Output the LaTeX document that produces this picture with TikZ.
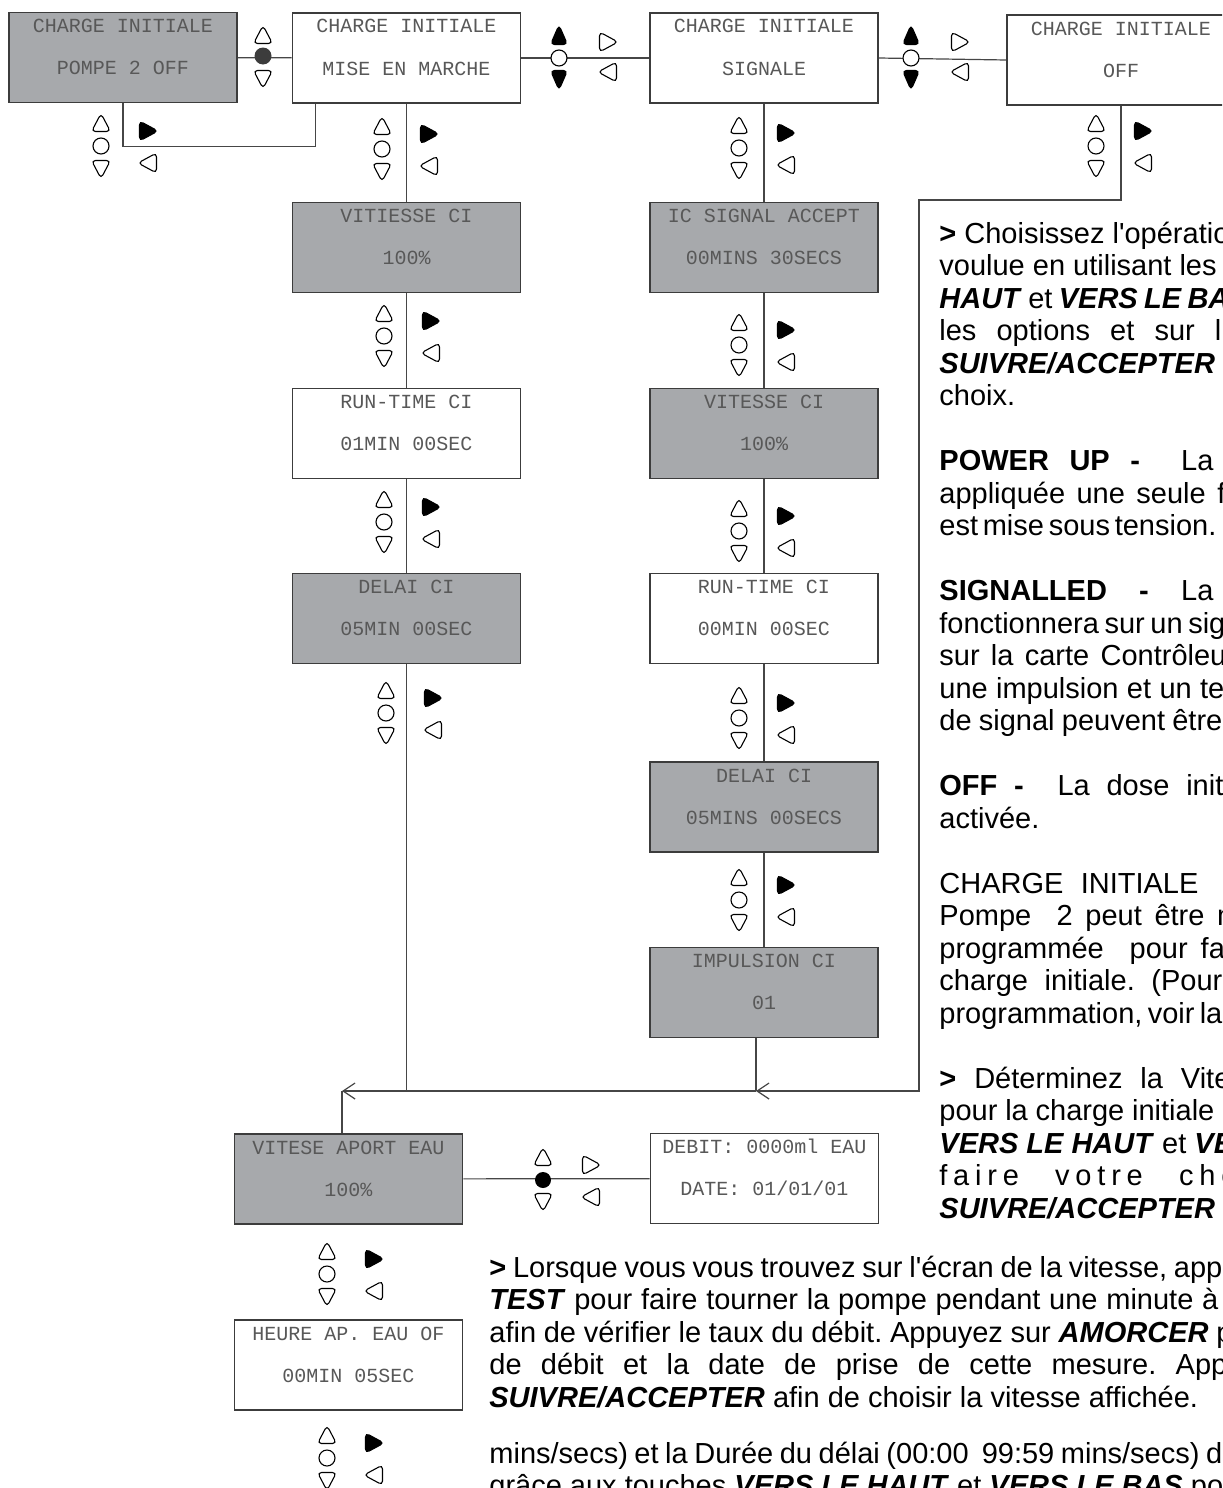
\documentclass[tikz,border=0pt]{standalone}
\usepackage{fontspec}
\usetikzlibrary{arrows.meta}
\newfontfamily\lcdfont{Liberation Mono}
\newfontfamily\txtfont{Liberation Sans}
\definecolor{lcdgray}{RGB}{167,169,172}
\definecolor{lcdline}{RGB}{60,60,60}
\definecolor{lcdtext}{RGB}{88,88,88}
\definecolor{wirecol}{RGB}{70,70,70}
\newcommand{\bfit}[1]{\textbf{\textit{#1}}}
\newcommand{\jline}[2]{\hbox to #1{\spaceskip=0pt plus 1fil\relax #2}}
\tikzset{
  lcd/.style={draw=lcdline, line width=0.8pt, minimum width=114pt, inner sep=0pt,
    text height=31pt, text depth=14pt, align=center, text=lcdtext,
    font=\lcdfont\fontsize{10pt}{21pt}\selectfont},
  lcdon/.style={lcd, fill=lcdgray},
  lcdoff/.style={lcd, fill=white},
  wire/.style={draw=wirecol, line width=0.6pt},
  barb/.style={-{Straight Barb[length=6pt,width=8pt]}},
  keyline/.style={line width=0.55pt, rounded corners=2pt, draw=black},
  txt/.style={anchor=base west, inner sep=0pt,
    font=\txtfont\fontsize{14.5pt}{16pt}\selectfont\frenchspacing},
  upkey/.pic={\draw[keyline, fill=white] (0,-9.5) -- (9.5,8.5) -- (-9.5,8.5) -- cycle;},
  downkey/.pic={\draw[keyline, fill=white] (0,9.5) -- (9.5,-8.5) -- (-9.5,-8.5) -- cycle;},
  upkeyon/.pic={\draw[keyline, fill=black] (0,-10) -- (8.5,9.5) -- (-8.5,9.5) -- cycle;},
  downkeyon/.pic={\draw[keyline, fill=black] (0,10) -- (8.5,-9.5) -- (-8.5,-9.5) -- cycle;},
  nextkey/.pic={\draw[keyline, fill=black] (10,0) -- (-8.5,10) -- (-8.5,-10) -- cycle;},
  nextkeyoff/.pic={\draw[keyline, fill=white] (10,0) -- (-8.5,10) -- (-8.5,-10) -- cycle;},
  backkey/.pic={\draw[keyline, fill=white] (-10,0) -- (8.5,10) -- (8.5,-10) -- cycle;},
  okkey/.pic={\draw[line width=0.55pt, fill=white] (0,0) circle[radius=4pt];},
  navkeys/.pic={\pic at (0,0) {upkey}; \pic at (0,23) {okkey}; \pic at (0,46) {downkey};
    \pic at (47,8) {nextkey}; \pic at (47,40) {backkey};},
  sidekeys/.pic={\pic at (0,-23) {upkeyon}; \pic at (0,0) {okkey}; \pic at (0,22) {downkeyon};
    \pic at (49,-16) {nextkeyoff}; \pic at (49,14) {backkey};}
}
\begin{document}
\begin{tikzpicture}[x=0.5pt,y=-0.5pt]
  \useasboundingbox (0,0) rectangle (1222,1488);
  \clip (0,0) rectangle (1222,1488);
  % ecrans
  \node[lcdon] (pompeoff) at (123,57.5) {CHARGE INITIALE\\POMPE 2 OFF};
  \node[lcdoff] (misemarche) at (406.5,58) {CHARGE INITIALE\\MISE EN MARCHE};
  \node[lcdoff] (signale) at (764,58) {CHARGE INITIALE\\SIGNALE};
  \node[lcdoff] (cioff) at (1121,60) {CHARGE INITIALE\\OFF};
  \node[lcdon] (vitci) at (406.5,247.5) {VITIESSE CI\\100\%};
  \node[lcdoff] (runci) at (406.5,433.5) {RUN-TIME CI\\01MIN 00SEC};
  \node[lcdon] (delci) at (406.5,618.5) {DELAI CI\\05MIN 00SEC};
  \node[lcdon] (icsig) at (764,247.5) {IC SIGNAL ACCEPT\\00MINS 30SECS};
  \node[lcdon] (vitsig) at (764,433.5) {VITESSE CI\\100\%};
  \node[lcdoff] (runsig) at (764,618.5) {RUN-TIME CI\\00MIN 00SEC};
  \node[lcdon] (delsig) at (764,807) {DELAI CI\\05MINS 00SECS};
  \node[lcdon] (impsig) at (764,992.5) {IMPULSION CI\\01};
  \node[lcdon] (vitaport) at (348.5,1179) {VITESE APORT EAU\\100\%};
  \node[lcdoff] (debit) at (764.5,1178.5) {DEBIT: 0000ml EAU\\DATE: 01/01/01};
  \node[lcdoff] (heureap) at (348.5,1365) {HEURE AP. EAU OF\\00MIN 05SEC};
  % liaisons
  \coordinate (dleft) at (919,200);
  \coordinate (jsig) at (756,1091);
  \coordinate (jvit) at (342,1091);
  \draw[wire] (pompeoff) -- (misemarche);
  \draw[wire] (misemarche.east) -- (signale.west);
  \draw[wire] (signale.east) -- (cioff.west);
  \draw[wire] (pompeoff.south) -- ++(0,43) -| ([xshift=12pt]misemarche.south west);
  \draw[wire] (misemarche) -- (vitci);
  \draw[wire] (vitci) -- (runci);
  \draw[wire] (runci) -- (delci);
  \draw[wire] (delci.south) -- (delci.south |- jsig);
  \draw[wire] (signale) -- (icsig);
  \draw[wire] (icsig) -- (vitsig);
  \draw[wire] (vitsig) -- (runsig);
  \draw[wire] (runsig) -- (delsig);
  \draw[wire] (delsig) -- (impsig);
  \draw[wire] (impsig.south -| jsig) -- (jsig);
  \draw[wire, barb] (cioff.south) |- (dleft) |- (jsig);
  \draw[wire, barb] (jsig) -- (jvit);
  \draw[wire] (jvit) -- (jvit |- vitaport.north);
  \draw[wire] (vitaport) -- (debit);
  % touches
  \fill[lcdline] (263,56) circle[radius=4.25pt];
  \pic at (263,35) {upkey};
  \pic at (263,79) {downkey};
  \pic at (559,58) {sidekeys};
  \pic at (911,58) {sidekeys};
  \fill[black] (543,1180) circle[radius=4pt];
  \pic at (543,1157) {upkey};
  \pic at (543,1202) {downkey};
  \pic at (591,1165) {nextkeyoff};
  \pic at (591,1197) {backkey};
  \foreach \kx/\ky in {101/123, 382/126, 384/313, 384/499, 386/690, 739/125, 739/322,
      739/508, 739/695, 739/877, 1096/123, 327/1251, 327/1435}
    \pic at (\kx,\ky) {navkeys};
  % texte
  \node[txt] (r1) at (939,243) {\textbf{>} Choisissez l'opératio};
  \node[txt] (r2) at (939,275.5) {voulue en utilisant les};
  \node[txt] (r3) at (939,308) {\jline{145pt}{\bfit{HAUT} et \bfit{VERS LE BA}}};
  \node[txt] (r4) at (939,340.5) {\jline{141pt}{les options et sur l}};
  \node[txt] (r5) at (939,373) {\bfit{SUIVRE/ACCEPTER}};
  \node[txt] (r6) at (939,405.5) {choix.};
  \node[txt] (r7) at (939,470.5) {\jline{137pt}{\textbf{POWER UP -} \ La}};
  \node[txt] (r8) at (939,503) {\jline{143pt}{appliquée une seule f}};
  \node[txt] (r9) at (939,535.5) {\jline{138.5pt}{est mise sous tension.}};
  \node[txt] (r10) at (939,600.5) {\jline{137pt}{\textbf{SIGNALLED -} La}};
  \node[txt] (r11) at (939,633) {\jline{143pt}{fonctionnera sur un sig}};
  \node[txt] (r12) at (939,665.5) {\jline{143.5pt}{sur la carte Contrôleu}};
  \node[txt] (r13) at (939,698) {\jline{142.5pt}{une impulsion et un te}};
  \node[txt] (r14) at (939,730.5) {\jline{141.5pt}{de signal peuvent être}};
  \node[txt] (r15) at (939,795.5) {\jline{142pt}{\textbf{OFF -} \ La dose init}};
  \node[txt] (r16) at (939,828) {activée.};
  \node[txt] (r17) at (939,893) {\jline{129.5pt}{CHARGE INITIALE}};
  \node[txt] (r18) at (939,925.5) {\jline{151pt}{Pompe \ 2 peut être m}};
  \node[txt] (r19) at (939,958) {\jline{146pt}{programmée \ pour fai}};
  \node[txt] (r20) at (939,990.5) {\jline{141.5pt}{charge initiale. (Pour}};
  \node[txt] (r21) at (939,1023) {\jline{141.5pt}{programmation, voir la}};
  \node[txt] (r22) at (939,1088) {\jline{145.5pt}{\textbf{>} Déterminez la Vite}};
  \node[txt] (r23) at (939,1120.5) {\jline{149.5pt}{pour la charge initiale g}};
  \node[txt] (r24) at (939,1153) {\bfit{VERS LE HAUT} et \bfit{VE}};
  \node[txt] (r25) at (939,1185.5) {\jline{149pt}{\addfontfeature{LetterSpace=20}faire votre cho}};
  \node[txt] (r26) at (939,1218) {\bfit{SUIVRE/ACCEPTER}};
  \node[txt] (b1) at (489,1277) {\jline{366.5pt}{\textbf{>} Lorsque vous vous trouvez sur l'écran de la vitesse, app}};
  \node[txt] (b2) at (489,1309.5) {\jline{364.5pt}{\bfit{TEST} pour faire tourner la pompe pendant une minute à}};
  \node[txt] (b3) at (489,1342) {\jline{371.5pt}{afin de vérifier le taux du débit. Appuyez sur \bfit{AMORCER} p}};
  \node[txt] (b4) at (489,1374.5) {\jline{369pt}{de débit et la date de prise de cette mesure. App}};
  \node[txt] (b5) at (489,1407) {\bfit{SUIVRE/ACCEPTER} afin de choisir la vitesse affichée.};
  \node[txt] (b6) at (489,1463) {\jline{374.5pt}{mins/secs) et la Durée du délai (00:00 \ 99:59 mins/secs) de}};
  \node[txt] (b7) at (489,1495) {grâce aux touches \bfit{VERS LE HAUT} et \bfit{VERS LE BAS} po};
\end{tikzpicture}
\end{document}
